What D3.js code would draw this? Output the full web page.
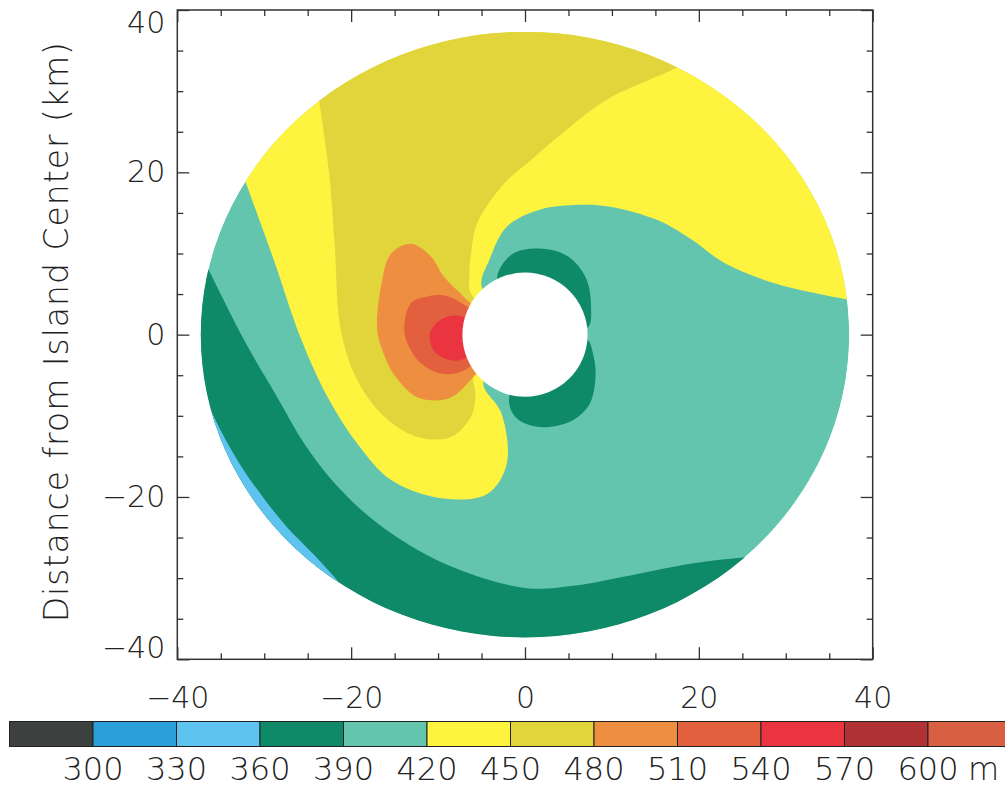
<!DOCTYPE html>
<html>
<head>
<meta charset="utf-8">
<script src="https://cdn.jsdelivr.net/npm/d3@7"></script>
<style>
  body { margin: 0; background: #fff; }
  text { font-family: "DejaVu Sans", sans-serif; font-weight: 200; fill: #222; }
</style>
</head>
<body>
<div id="chart"></div>
<script>
// contour levels (m) and the colour of each band of the colour bar
var levels = [300, 330, 360, 390, 420, 450, 480, 510, 540, 570, 600];
var bandColors = ["#3c403f", "#2b9fd9", "#5ec3ee", "#0f8a69", "#64c5af", "#fef33f",
                  "#e2d53c", "#ee8e40", "#e2603e", "#ea3440", "#b03234", "#d95f42"];

var xMajor = [-40, -20, 0, 20, 40];
var yMajor = [-40, -20, 0, 20, 40];
var minorTicks = [-35, -30, -25, -15, -10, -5, 5, 10, 15, 25, 30, 35];

// model domain and island (km)
var domainRadius = 37.3;
var islandRadius = [7.2, 7.65];

// contour boundaries, [x km, y km]
// 390 m contour, lower-left band (band 360-390)
var band360Edge = [[-38.5, 12.5], [-36.5, 8.2], [-32.3, -0.7], [-28.5, -7.7], [-25.4, -13.4], [-21.9, -18.3],
                   [-16.9, -23.3], [-9.3, -28.2], [0, -31.2], [5.8, -30.9], [11.5, -29.8], [19.2, -28.2],
                   [25.5, -27.4], [32, -26.8]];
var band360Outer = [[50, -26], [50, -50], [-50, -50], [-50, 13]];
// 360 m contour, thin sliver on the south-west rim
var band330Edge = [[-37.3, -6.6], [-35.0, -11.8], [-32.6, -16.3], [-30.1, -20.1], [-27.4, -23.7],
                   [-24.3, -27.1], [-20.3, -31.8]];
var band330Outer = [[-22, -45], [-50, -45], [-50, -6]];
// 390 m contour, lee lobes east of the island
var leeLobeNorth = [[-3.2, 6.9], [-1.5, 9.9], [1.7, 10.6], [5.0, 9.6], [7.0, 7.0], [7.6, 3.5], [7.2, 0.9], [3, 1.5], [-1, 4]];
var leeLobeSouth = [[7.1, -0.6], [7.9, -2.7], [8.1, -5.5], [7.4, -8.6], [5.4, -10.6], [2.0, -11.4], [-0.6, -10.6],
                    [-1.6, -9.3], [-1.8, -7.5], [0, -4], [4, -2]];
// 450 m contour
var band450Edge = [[-33.6, 23.2], [-32.1, 18.7], [-28.9, 9.2], [-25.7, -0.7], [-22.7, -7.7], [-19.3, -13.4],
                   [-15.4, -17.9], [-9.3, -20.2], [-4.3, -19.6], [-2.1, -15.9], [-2.7, -9.7], [-4.8, -5.9],
                   [-2, -2], [-2, 2], [-5.0, 6.0], [-4.1, 9.2], [-2.1, 13.3], [1.7, 15.4], [6.3, 16.0],
                   [9.6, 15.8], [15.3, 14.1], [19.2, 11.7], [23.0, 8.8], [28.8, 6.3], [37.2, 4.3], [42, 3.4]];
var band450Outer = [[50, 3], [50, 50], [-50, 50], [-50, 24]];
// 480 m contour
var band480Edge = [[-24.2, 33], [-23.6, 28.3], [-22.5, 19.5], [-21.9, 11.2], [-21.2, 0.6], [-19.3, -5.6],
                   [-16.2, -10.1], [-12.4, -12.6], [-8.5, -12.6], [-6.2, -10.1], [-5.7, -7.5], [-5.9, -4.6],
                   [-3, -1], [-3, 2], [-6.2, 5.0], [-6.4, 7.5], [-6.2, 10.0], [-5.5, 13.7], [-2.5, 18.5],
                   [1.0, 21.8], [4.5, 25.0], [9.5, 29.0], [16.9, 32.6], [20.5, 34.6]];
var band480Outer = [[30, 50], [-30, 50]];
// 510, 540, 570 m contours on the windward side
var band510 = [[-7.0, 4.6], [-9.3, 7.1], [-10.8, 9.6], [-13.1, 11.2], [-15.4, 10.0], [-16.5, 6.3], [-17.0, 0.6],
               [-16.2, -2.5], [-15.0, -5.0], [-12.4, -7.7], [-8.9, -7.9], [-6.6, -6.0], [-3, 0]];
var band540 = [[-7.8, 4.2], [-9.6, 4.9], [-11.2, 4.7], [-13.1, 3.9], [-13.9, 0.6], [-13.2, -1.8], [-12.0, -3.5],
               [-9.7, -4.8], [-7.0, -4.4], [-3.5, 0]];
var band570 = [[-7.5, 2.3], [-9.6, 1.9], [-10.9, 0.3], [-10.6, -1.8], [-9.3, -2.9], [-7.3, -3.1], [-4, 0]];

var width = 1005, height = 788;

var svg = d3.select("#chart").append("svg")
    .attr("width", width)
    .attr("height", height);

var x = d3.scaleLinear().domain([-40, 40]).range([177.3, 872.7]);
var y = d3.scaleLinear().domain([-40, 40]).range([659.3, 10]);

// colour for the band that starts at a given level index
var colorAt = function(i) { return bandColors[i + 1]; };

var curveLine = d3.line()
    .x(function(d) { return x(d[0]); })
    .y(function(d) { return y(d[1]); })
    .curve(d3.curveCatmullRom.alpha(0.5));

var closedLine = d3.line()
    .x(function(d) { return x(d[0]); })
    .y(function(d) { return y(d[1]); })
    .curve(d3.curveCatmullRomClosed.alpha(0.5));

function openRegion(edge, outer) {
    var p = curveLine(edge);
    outer.forEach(function(d) { p += "L" + x(d[0]) + "," + y(d[1]); });
    return p + "Z";
}

// clip to the circular model domain
svg.append("clipPath").attr("id", "domain")
    .append("ellipse")
    .attr("cx", x(0)).attr("cy", y(0))
    .attr("rx", x(domainRadius) - x(0))
    .attr("ry", y(0) - y(domainRadius));

var field = svg.append("g").attr("clip-path", "url(#domain)");

// base band 390-420 covers the whole domain
field.append("ellipse")
    .attr("cx", x(0)).attr("cy", y(0))
    .attr("rx", x(domainRadius) - x(0))
    .attr("ry", y(0) - y(domainRadius))
    .attr("fill", colorAt(3));

var regions = [
    {d: openRegion(band360Edge, band360Outer), c: colorAt(2)},
    {d: openRegion(band330Edge, band330Outer), c: colorAt(1)},
    {d: closedLine(leeLobeNorth), c: colorAt(2)},
    {d: closedLine(leeLobeSouth), c: colorAt(2)},
    {d: openRegion(band450Edge, band450Outer), c: colorAt(4)},
    {d: openRegion(band480Edge, band480Outer), c: colorAt(5)},
    {d: closedLine(band510), c: colorAt(6)},
    {d: closedLine(band540), c: colorAt(7)},
    {d: closedLine(band570), c: colorAt(8)}
];

field.selectAll(".band")
    .data(regions)
    .enter().append("path")
    .attr("class", "band")
    .attr("d", function(d) { return d.d; })
    .attr("fill", function(d) { return d.c; });

// the island
svg.append("ellipse")
    .attr("cx", x(0)).attr("cy", y(0))
    .attr("rx", x(islandRadius[0]) - x(0))
    .attr("ry", y(0) - y(islandRadius[1]))
    .attr("fill", "#fff");

// axes, ticks pointing inward
var fmt = d3.format("d");
var axisG = svg.append("g").attr("class", "axes");

var bottomAxis = axisG.append("g").attr("transform", "translate(0," + y(-40) + ")")
    .call(d3.axisBottom(x).tickValues(xMajor).tickSize(-12).tickFormat(fmt));
axisG.append("g").attr("transform", "translate(0," + y(-40) + ")")
    .call(d3.axisBottom(x).tickValues(minorTicks).tickSize(-6).tickFormat(""));
axisG.append("g").attr("transform", "translate(0," + y(40) + ")")
    .call(d3.axisTop(x).tickValues(xMajor).tickSize(-12).tickFormat(""));
axisG.append("g").attr("transform", "translate(0," + y(40) + ")")
    .call(d3.axisTop(x).tickValues(minorTicks).tickSize(-6).tickFormat(""));
var leftAxis = axisG.append("g").attr("transform", "translate(" + x(-40) + ",0)")
    .call(d3.axisLeft(y).tickValues(yMajor).tickSize(-12).tickPadding(12).tickFormat(fmt));
axisG.append("g").attr("transform", "translate(" + x(-40) + ",0)")
    .call(d3.axisLeft(y).tickValues(minorTicks).tickSize(-6).tickFormat(""));
axisG.append("g").attr("transform", "translate(" + x(40) + ",0)")
    .call(d3.axisRight(y).tickValues(yMajor).tickSize(-12).tickFormat(""));
axisG.append("g").attr("transform", "translate(" + x(40) + ",0)")
    .call(d3.axisRight(y).tickValues(minorTicks).tickSize(-6).tickFormat(""));

axisG.selectAll(".domain").remove();
axisG.selectAll(".tick line").attr("stroke", "#333").attr("stroke-width", 1.3);
axisG.selectAll("text")
    .attr("font-family", null)
    .style("font-size", "30px")
    .attr("fill", "#222");

// x labels sit well below the frame
bottomAxis.selectAll("text").attr("dy", null).attr("y", 48.5);

// y end labels are pulled inside the frame
leftAxis.selectAll("text").filter(function(d) { return d === 40; }).attr("y", 13);
leftAxis.selectAll("text").filter(function(d) { return d === -40; }).attr("y", -11);

svg.append("rect")
    .attr("x", x(-40)).attr("y", y(40))
    .attr("width", x(40) - x(-40)).attr("height", y(-40) - y(40))
    .attr("fill", "none").attr("stroke", "#333").attr("stroke-width", 1.5);

// y title
svg.append("text")
    .attr("transform", "translate(68," + (y(0) - 3) + ") rotate(-90)")
    .attr("text-anchor", "middle")
    .style("font-size", "33px")
    .style("letter-spacing", "1px")
    .text("Distance from Island Center (km)");

// colour bar
var cb = d3.scaleLinear().domain([300, 600]).range([93, 928]);
var cbTop = 721.5, cbHeight = 25;

svg.append("g").selectAll("rect")
    .data(bandColors)
    .enter().append("rect")
    .attr("x", function(d, i) { return cb(270 + 30 * i); })
    .attr("y", cbTop)
    .attr("width", cb(300) - cb(270))
    .attr("height", cbHeight)
    .attr("fill", function(d) { return d; })
    .attr("stroke", "#222")
    .attr("stroke-width", 1);

svg.append("g").selectAll("text")
    .data(levels)
    .enter().append("text")
    .attr("x", function(d) { return cb(d); })
    .attr("y", 780)
    .attr("text-anchor", "middle")
    .style("font-size", "32px")
    .text(function(d) { return d; });

svg.append("text")
    .attr("x", cb(600) + 40)
    .attr("y", 780)
    .style("font-size", "32px")
    .text("m");
</script>
</body>
</html>
